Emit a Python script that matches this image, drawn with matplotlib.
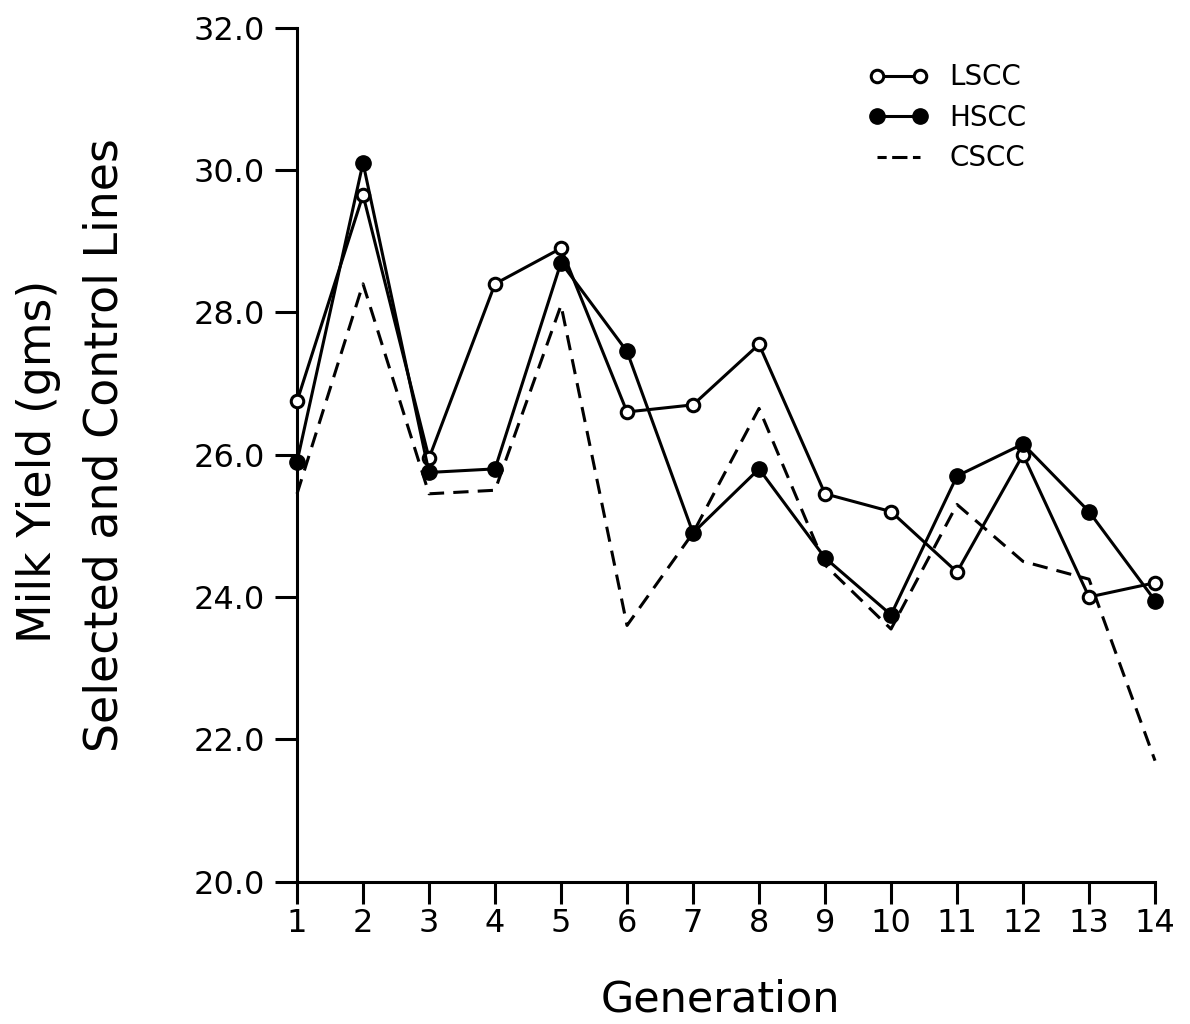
import matplotlib
matplotlib.use("Agg")
import matplotlib.pyplot as plt
from matplotlib.lines import Line2D

# generation numbers and mean milk yield for the three lines
generations = list(range(1, 15))
lscc = [26.75, 29.65, 25.95, 28.4, 28.9, 26.6, 26.7, 27.55, 25.45, 25.2, 24.35, 26.0, 24.0, 24.2]
hscc = [25.9, 30.1, 25.75, 25.8, 28.7, 27.45, 24.9, 25.8, 24.55, 23.75, 25.7, 26.15, 25.2, 23.95]
cscc = [25.45, 28.4, 25.45, 25.5, 28.1, 23.6, 24.9, 26.65, 24.45, 23.55, 25.3, 24.5, 24.25, 21.7]

y_ticks = [20.0, 22.0, 24.0, 26.0, 28.0, 30.0, 32.0]

fig = plt.figure(figsize=(11.9, 10.24), dpi=100)
ax = fig.add_axes([0.2496, 0.139, 0.721, 0.834])

ax.plot(generations, lscc, color="black", lw=2.2, marker="o", markersize=9,
        markerfacecolor="white", markeredgecolor="black", markeredgewidth=2.2,
        clip_on=False, zorder=3)
ax.plot(generations, hscc, color="black", lw=2.2, marker="o", markersize=11,
        markerfacecolor="black", markeredgecolor="black", clip_on=False, zorder=3)
ax.plot(generations, cscc, color="black", lw=2.2, linestyle=(0, (5, 3)),
        clip_on=False, zorder=2)

ax.set_xlim(1, 14)
ax.set_ylim(20, 32)
ax.set_xticks(generations)
ax.set_yticks(y_ticks)
ax.set_yticklabels([f"{v:.1f}" for v in y_ticks])

for side in ("top", "right"):
    ax.spines[side].set_visible(False)
for side in ("left", "bottom"):
    ax.spines[side].set_linewidth(2.2)

ax.tick_params(axis="both", direction="out", length=16, width=2.2, labelsize=23)
ax.tick_params(axis="y", pad=7)
ax.tick_params(axis="x", pad=3)

fig.text(0.032, 0.549, "Milk Yield (gms)", rotation=90, ha="center", va="center", fontsize=33)
fig.text(0.088, 0.565, "Selected and Control Lines", rotation=90, ha="center", va="center", fontsize=33)
fig.text(0.605, 0.024, "Generation", ha="center", va="center", fontsize=31)

# legend handles (short dash pattern so the CSCC key shows two dashes)
handles = [
    Line2D([], [], color="black", lw=2.2, marker="o", markersize=9, markerfacecolor="white",
           markeredgewidth=2.2, label="LSCC"),
    Line2D([], [], color="black", lw=2.2, marker="o", markersize=11, label="HSCC"),
    Line2D([], [], color="black", lw=2.2, linestyle=(2, (5, 1.8)), label="CSCC"),
]
ax.legend(handles=handles, loc="upper left", bbox_to_anchor=(0.730, 0.938),
          bbox_transform=fig.transFigure, frameon=False, fontsize=20, numpoints=2,
          handlelength=2.15, handletextpad=0.75, labelspacing=0.45, borderpad=0,
          borderaxespad=0)

fig.savefig("out.png", dpi=100)
